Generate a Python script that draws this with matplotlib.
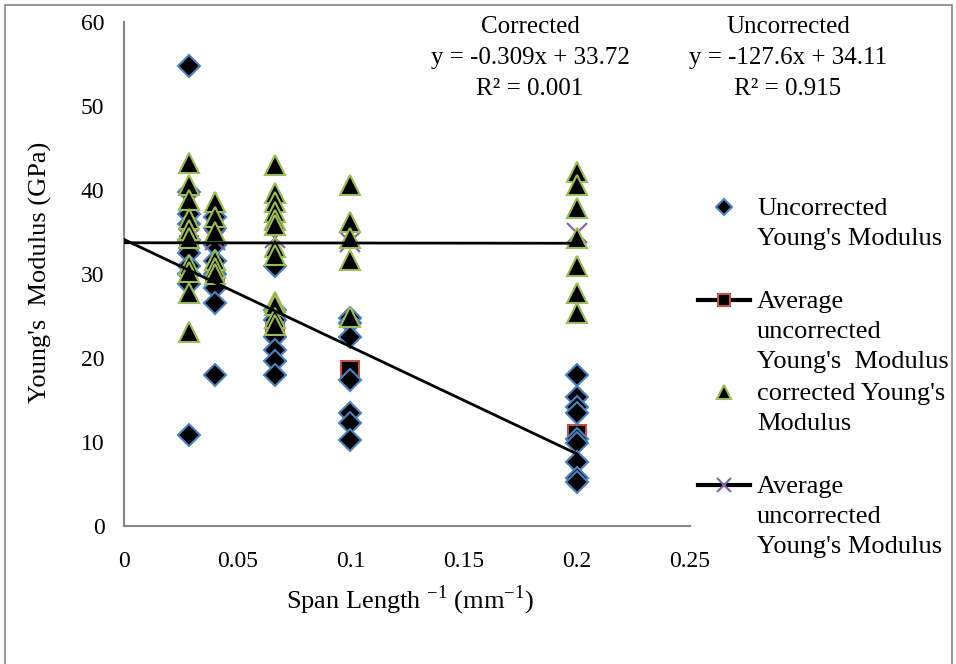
import matplotlib
matplotlib.use("Agg")
import matplotlib.pyplot as plt
from matplotlib.patches import Rectangle
from matplotlib.lines import Line2D

plt.rcParams['font.family'] = ['Liberation Serif', 'DejaVu Serif']
plt.rcParams['mathtext.fontset'] = 'custom'
plt.rcParams['mathtext.rm'] = 'Liberation Serif'

# span lengths (mm) -> inverse span on the x axis
spans = [35, 25, 15, 10, 5]

# uncorrected Young's modulus (GPa), one list per span
unc_35 = [54.8, 39.8, 37.2, 36.0, 34.0, 32.5, 31.0, 30.0, 28.8, 10.8]
unc_25 = [36.8, 35.5, 33.5, 31.5, 30.0, 28.3, 26.5, 18.0]
unc_15 = [31.0, 25.7, 24.5, 22.5, 21.0, 19.6, 18.0]
unc_10 = [24.8, 24.2, 22.5, 17.4, 13.4, 12.3, 10.2]
unc_5 = [18.0, 15.4, 14.2, 13.4, 10.4, 9.9, 7.6, 5.7, 5.2]

# corrected Young's modulus (GPa)
cor_35 = [43.2, 40.6, 38.8, 36.5, 35.2, 34.3, 31.1, 30.2, 27.7, 23.1]
cor_25 = [38.6, 36.8, 35.0, 31.7, 30.7, 30.0]
cor_15 = [43.0, 39.6, 38.6, 37.4, 36.4, 35.8, 33.2, 32.3, 26.7, 26.3, 24.8, 23.9]
cor_10 = [40.6, 36.2, 34.3, 31.7, 24.9]
cor_5 = [42.1, 40.6, 37.9, 34.3, 30.9, 27.7, 25.4]

# averages per span
avg_unc = [33.5, 29.5, 23.7, 18.6, 10.9]
avg_cor = [34.2, 34.0, 34.3, 33.8, 34.9]

# trendline coefficients (slope, intercept) as printed on the chart
cor_fit = (-0.309, 33.72)
unc_fit = (-127.6, 34.11)

unc_groups = [unc_35, unc_25, unc_15, unc_10, unc_5]
cor_groups = [cor_35, cor_25, cor_15, cor_10, cor_5]

def flatten(groups):
	xs, ys = [], []
	for s, g in zip(spans, groups):
		xs += [1.0 / s] * len(g)
		ys += g
	return xs, ys

unc_x, unc_y = flatten(unc_groups)
cor_x, cor_y = flatten(cor_groups)
avg_x = [1.0 / s for s in spans]

blue = '#4F81BD'
red = '#C0504D'
green = '#9BBB59'
purple = '#8064A2'
grey = '#868686'

W, H = 956, 664
fig = plt.figure(figsize=(W / 100, H / 100), dpi=100)
ax = fig.add_axes([124 / W, 1 - 526 / H, (690 - 124) / W, (526 - 22) / H])

ax.plot(avg_x, avg_unc, linestyle='none', marker='s', ms=13, mfc='black', mec=red, mew=1.5, zorder=3)
ax.plot(unc_x, unc_y, linestyle='none', marker='D', ms=11, mfc='black', mec=blue, mew=1.5, zorder=4)
ax.plot(avg_x, avg_cor, linestyle='none', marker='x', ms=14, mec=purple, mew=1.5, zorder=5)
ax.plot(cor_x, cor_y, linestyle='none', marker='^', ms=15, mfc='black', mec=green, mew=1.5, zorder=6)

trend_x = [0, 0.2]
ax.plot(trend_x, [cor_fit[0] * x + cor_fit[1] for x in trend_x], color='black', lw=2, zorder=7)
ax.plot(trend_x, [unc_fit[0] * x + unc_fit[1] for x in trend_x], color='black', lw=2, zorder=7)

ax.set_xlim(0, 0.25)
ax.set_ylim(0, 60)
ax.set_xticks([0, 0.05, 0.1, 0.15, 0.2, 0.25])
ax.set_xticklabels(['0', '0.05', '0.1', '0.15', '0.2', '0.25'])
ax.set_yticks(range(0, 61, 10))
ax.tick_params(length=0, labelsize=17)
ax.tick_params(axis='x', pad=18)
ax.tick_params(axis='y', pad=14)
for side in ['top', 'right']:
	ax.spines[side].set_visible(False)
for side in ['left', 'bottom']:
	ax.spines[side].set_color(grey)
	ax.spines[side].set_linewidth(1.5)

fig.text(410 / W, 1 - 600 / H, 'Span Length $^{-1}$ (mm$^{-1}$)', ha='center', va='center', fontsize=19)
fig.text(40 / W, 1 - 272 / H, "Young's  Modulus (GPa)", ha='center', va='center', rotation=90, fontsize=19)

def text_lines(x, y0, lines, size, ha):
	# y0 is the visual middle of the first line, lines are 31 px apart
	for i, line in enumerate(lines):
		fig.text(x / W, 1 - (y0 + 31 * i + 8) / H, line, ha=ha, va='baseline', fontsize=size)

text_lines(530, 25, ['Corrected', 'y = -0.309x + 33.72', 'R² = 0.001'], 18, 'center')
text_lines(788, 25, ['Uncorrected', 'y = -127.6x + 34.11', 'R² = 0.915'], 18, 'center')

# legend drawn by hand so each marker sits on the first line of its label
legend = [
	(207, ["Uncorrected", "Young's Modulus"], dict(marker='D', ms=8, mfc='black', mec=blue, mew=1.5), False),
	(300, ["Average", "uncorrected", "Young's  Modulus"], dict(marker='s', ms=9, mfc='black', mec=red, mew=1.5), True),
	(392, ["corrected Young's", "Modulus"], dict(marker='^', ms=10, mfc='black', mec=green, mew=1.5), False),
	(485, ["Average", "uncorrected", "Young's Modulus"], dict(marker='x', ms=10, mec=purple, mew=1.5), True),
]
for y, lines, mk, with_line in legend:
	fy = 1 - y / H
	if with_line:
		fig.add_artist(Line2D([698 / W, 750 / W], [fy, fy], color='black', lw=3, transform=fig.transFigure))
	fig.add_artist(Line2D([724 / W], [fy], linestyle='none', transform=fig.transFigure, **mk))
	for i, line in enumerate(lines):
		fig.text(757 / W, 1 - (y + 30 * i + 8) / H, line, ha='left', va='baseline', fontsize=19)

fig.add_artist(Rectangle((5 / W, -0.01), 947 / W, 1 - 5 / H + 0.01, transform=fig.transFigure,
	fill=False, ec=grey, lw=1.2))

fig.savefig('out.png', dpi=100)
